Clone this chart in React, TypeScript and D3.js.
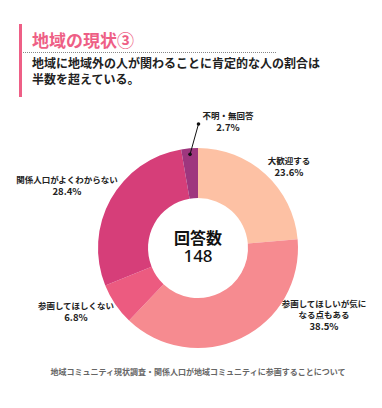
import React from "react";
import * as d3 from "d3";

const categories = [
  "大歓迎する",
  "参画してほしいが気になる点もある",
  "参画してほしくない",
  "関係人口がよくわからない",
  "不明・無回答",
];
const values = [23.6, 38.5, 6.8, 28.4, 2.7];
const colors = ["#FDC1A4", "#F68B90", "#EC5B80", "#D63E79", "#9E367E"];
const labelLines = [
  ["大歓迎する"],
  ["参画してほしいが気に", "なる点もある"],
  ["参画してほしくない"],
  ["関係人口がよくわからない"],
  ["不明・無回答"],
];
const total = 148;

const W = 382, H = 408;
const cx = 198, cy = 248, rOut = 100, rIn = 50;
// label anchor positions (x center, y of first line center)
const labelPos: [number, number][] = [
  [289, 162],
  [324, 305],
  [76, 307],
  [67, 181],
  [228, 117],
];
const FONT = "'Noto Sans CJK JP', 'Noto Sans', sans-serif";

export default function App() {
  const pie = d3.pie<number>().sort(null).value((d) => d);
  const arcs = pie(values);
  const arc = d3.arc<d3.PieArcDatum<number>>().innerRadius(rIn).outerRadius(rOut);
  const last = arcs[arcs.length - 1];
  const mid = (last.startAngle + last.endAngle) / 2;
  const p1 = [cx + Math.sin(mid) * 94, cy - Math.cos(mid) * 94];
  const p2 = [cx + 0.5, cy - 124];
  return (
    <svg width={W} height={H} style={{ position: "absolute", left: 0, top: 0 }} fontFamily={FONT}>
      <rect width={W} height={H} fill="#fff" />
      <rect x={19} y={24} width={3} height={73} fill="#EE5F86" />
      <text x={32} y={42} fontSize={17} fontWeight={700} fill="#EE5F86" dominantBaseline="middle">
        地域の現状③
      </text>
      <line x1={23} x2={276} y1={52.5} y2={52.5} stroke="#888" strokeWidth={1} strokeDasharray="1,1" />
      <text fontSize={12} fontWeight={700} fill="#222" dominantBaseline="middle">
        <tspan x={32} y={65}>地域に地域外の人が関わることに肯定的な人の割合は</tspan>
        <tspan x={32} y={81}>半数を超えている。</tspan>
      </text>
      <g transform={`translate(${cx},${cy})`}>
        {arcs.map((a, i) => (
          <path key={categories[i]} d={arc(a) || ""} fill={colors[i]} />
        ))}
      </g>
      <line x1={p1[0]} y1={p1[1]} x2={p2[0]} y2={p2[1]} stroke="#111" strokeWidth={1} />
      <circle cx={p1[0]} cy={p1[1]} r={1.8} fill="#111" />
      <circle cx={p2[0]} cy={p2[1]} r={1.8} fill="#111" />
      <text textAnchor="middle" dominantBaseline="middle" fill="#111">
        <tspan x={cx} y={240} fontSize={16} fontWeight={700}>回答数</tspan>
        <tspan x={cx} y={257} fontSize={17} fontWeight={500} fontFamily="'Noto Sans', 'Open Sans', sans-serif">
          {total}
        </tspan>
      </text>
      {arcs.map((a, i) => {
        const [lx, ly] = labelPos[i];
        const lines = [...labelLines[i], `${values[i].toFixed(1)}%`];
        return (
          <text key={"l" + i} textAnchor="middle" dominantBaseline="middle" fontWeight={700} fill="#222">
            {lines.map((t, j) => (
              <tspan key={j} x={lx} y={ly + j * 11} fontSize={j === lines.length - 1 ? 9.5 : 8.5}>
                {t}
              </tspan>
            ))}
          </text>
        );
      })}
      <text x={198} y={373} textAnchor="middle" dominantBaseline="middle" fontSize={8} fontWeight={700} fill="#666">
        地域コミュニティ現状調査・関係人口が地域コミュニティに参画することについて
      </text>
    </svg>
  );
}
